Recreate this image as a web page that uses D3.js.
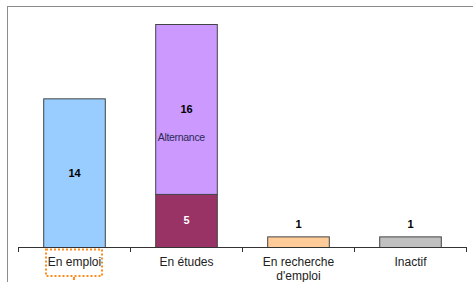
<!DOCTYPE html>
<html>
<head>
<meta charset="utf-8">
<script src="https://cdn.jsdelivr.net/npm/d3@7"></script>
<style>
  body { margin: 0; background: #fff; }
  text { font-family: "Liberation Sans", Arial, sans-serif; }
</style>
</head>
<body>
<script>
//chart data
var categories = ["En emploi", "En études", "En recherche\nd'emploi", "Inactif"];
var baseValues = [14, 5, 1, 1];       //bottom segment of each bar
var alternanceValues = [0, 16, 0, 0]; //stacked segment (only En études)
var baseColors = ["#99ccff", "#993366", "#ffcc99", "#c0c0c0"];
var alternanceColor = "#cc99ff";

var w = 473, h = 282;

var svg = d3.select("body").append("svg")
    .attr("width", w)
    .attr("height", h);

//outer frame of the chart area
svg.append("rect")
    .attr("x", 7.5).attr("y", 6.5)
    .attr("width", 470).attr("height", 300)
    .style("fill", "#fff")
    .style("stroke", "#8c8c8c");

//scales
var x = d3.scaleBand()
    .domain(categories)
    .range([18, 466])
    .paddingInner(0.45)
    .paddingOuter(0.225);

var y = d3.scaleLinear()
    .domain([0, 21])
    .range([247, 24]);

//bottom segments
svg.selectAll(".base")
    .data(categories)
    .enter()
    .append("rect")
    .attr("class", "base")
    .attr("x", function(d){ return x(d) + 0.5; })
    .attr("width", x.bandwidth())
    .attr("y", function(d, i){ return y(baseValues[i]) + 0.5; })
    .attr("height", function(d, i){ return y(0) - y(baseValues[i]); })
    .style("fill", function(d, i){ return baseColors[i]; })
    .style("stroke", "#444");

//stacked alternance segment
svg.selectAll(".alt")
    .data(categories.filter(function(d, i){ return alternanceValues[i] > 0; }))
    .enter()
    .append("rect")
    .attr("class", "alt")
    .attr("x", function(d){ return x(d) + 0.5; })
    .attr("width", x.bandwidth())
    .attr("y", function(d){
        var i = categories.indexOf(d);
        return y(baseValues[i] + alternanceValues[i]) + 0.5;
    })
    .attr("height", function(d){
        var i = categories.indexOf(d);
        return y(baseValues[i]) - y(baseValues[i] + alternanceValues[i]);
    })
    .style("fill", alternanceColor)
    .style("stroke", "#444");

//value labels
svg.selectAll(".val")
    .data(categories)
    .enter()
    .append("text")
    .attr("class", "val")
    .attr("text-anchor", "middle")
    .attr("x", function(d){ return x(d) + x.bandwidth() / 2 + 0.5; })
    .attr("y", function(d, i){
        var v = baseValues[i];
        //big bars: label inside, small bars: label above
        return v > 3 ? y(v / 2) + 4 : y(v) - 8;
    })
    .style("font-size", "11px")
    .style("font-weight", "bold")
    .style("fill", function(d, i){ return i === 1 ? "#fff" : "#000"; })
    .text(function(d, i){ return baseValues[i]; });

//alternance value + label
var ei = 1;
svg.append("text")
    .attr("text-anchor", "middle")
    .attr("x", x(categories[ei]) + x.bandwidth() / 2 + 0.5)
    .attr("y", y(baseValues[ei] + alternanceValues[ei] / 2) + 4)
    .style("font-size", "11px")
    .style("font-weight", "bold")
    .text(alternanceValues[ei]);

svg.append("text")
    .attr("x", x(categories[ei]) + 2.5)
    .attr("y", y(baseValues[ei] + alternanceValues[ei] * 0.335) + 4)
    .style("font-size", "10.5px")
    .style("fill", "#2a2a55")
    .style("letter-spacing", "-0.3px")
    .text("Alternance");

//x axis
var xAxis = d3.axisBottom(x).tickSize(0).tickFormat("");
var axis = svg.append("g")
    .attr("transform", "translate(0.5," + (y(0) + 0.5) + ")")
    .call(xAxis);
axis.select(".domain").attr("d", "M-0.5,0H448").attr("transform", "translate(18,0)")
    .style("stroke", "#333");

//tick marks between categories
var tickPos = [18, 130, 242, 354, 466];
svg.selectAll(".tk")
    .data(tickPos)
    .enter()
    .append("line")
    .attr("x1", function(d){ return d + 0.5; })
    .attr("x2", function(d){ return d + 0.5; })
    .attr("y1", y(0))
    .attr("y2", y(0) + 5)
    .style("stroke", "#333");

//category labels
var labels = svg.selectAll(".cat")
    .data(categories)
    .enter()
    .append("text")
    .attr("class", "cat")
    .attr("text-anchor", "middle")
    .attr("y", 266)
    .style("font-size", "12px")
    .style("fill", "#222");

labels.selectAll("tspan")
    .data(function(d){
        var cx = x(d) + x.bandwidth() / 2 + 0.5;
        return d.split("\n").map(function(s){ return {s: s, cx: cx}; });
    })
    .enter()
    .append("tspan")
    .attr("x", function(d){ return d.cx; })
    .attr("dy", function(d, i){ return i === 0 ? 0 : 13.5; })
    .text(function(d){ return d.s; });

//selection box round the first label
var c0 = x(categories[0]) + x.bandwidth() / 2;
svg.append("rect")
    .attr("x", c0 - 28).attr("y", 249.5)
    .attr("width", 56).attr("height", 26.5)
    .style("fill", "none")
    .style("stroke", "#ff8c1a")
    .style("stroke-width", 2)
    .style("stroke-dasharray", "2,2");
svg.append("rect")
    .attr("x", c0 - 1).attr("y", 277)
    .attr("width", 2).attr("height", 3)
    .style("fill", "#ff8c1a");
</script>
</body>
</html>
